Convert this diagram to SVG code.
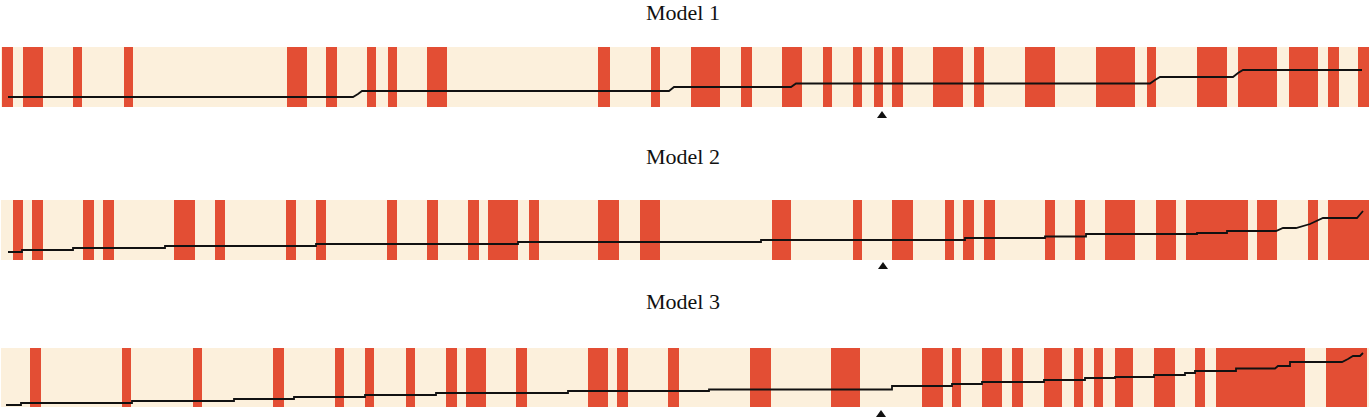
<svg xmlns="http://www.w3.org/2000/svg" width="1370" height="419" viewBox="0 0 1370 419">
<style>
.bg{fill:#fcf0dc}
.b rect{fill:#e34e34}
.t{font-family:"Liberation Serif",serif;font-size:22px;fill:#111;text-anchor:middle}
.ln{fill:none;stroke:#111;stroke-width:1.8}
.m{fill:#111}
</style>
<g id="model1">
<text class="t" x="683" y="20">Model 1</text>
<rect class="bg" x="1" y="47" width="1368" height="60"/>
<g class="b" transform="translate(0,47)">
<rect x="2" width="11" height="60"/><rect x="23" width="20" height="60"/><rect x="73" width="9" height="60"/><rect x="124" width="9" height="60"/><rect x="287" width="20" height="60"/><rect x="326" width="11" height="60"/><rect x="367" width="9" height="60"/><rect x="388" width="9" height="60"/><rect x="427" width="20" height="60"/><rect x="598" width="12" height="60"/><rect x="651" width="9" height="60"/><rect x="691" width="29" height="60"/><rect x="741" width="11" height="60"/><rect x="782" width="20" height="60"/><rect x="823" width="9" height="60"/><rect x="853" width="9" height="60"/><rect x="874" width="9" height="60"/><rect x="892" width="11" height="60"/><rect x="933" width="30" height="60"/><rect x="974" width="10" height="60"/><rect x="1025" width="30" height="60"/><rect x="1096" width="39" height="60"/><rect x="1147" width="9" height="60"/><rect x="1197" width="30" height="60"/><rect x="1238" width="39" height="60"/><rect x="1289" width="29" height="60"/><rect x="1328" width="11" height="60"/><rect x="1358" width="11" height="60"/>
</g>
<polyline class="ln" points="8,97 353,97 358,94 362,91 669,91 674,87 791,87 796,83.5 1150,83.5 1155,80 1160,77 1233,77 1238,73 1243,70 1362,70"/>
<polygon class="m" points="882,111 877,118 887,118"/>
</g>
<g id="model2">
<text class="t" x="683" y="164">Model 2</text>
<rect class="bg" x="1" y="200" width="1368" height="60"/>
<g class="b" transform="translate(0,200)">
<rect x="13" width="10" height="60"/><rect x="32" width="11" height="60"/><rect x="83" width="11" height="60"/><rect x="103" width="11" height="60"/><rect x="174" width="21" height="60"/><rect x="215" width="10" height="60"/><rect x="286" width="10" height="60"/><rect x="316" width="10" height="60"/><rect x="387" width="10" height="60"/><rect x="427" width="11" height="60"/><rect x="468" width="11" height="60"/><rect x="488" width="30" height="60"/><rect x="529" width="10" height="60"/><rect x="598" width="21" height="60"/><rect x="640" width="20" height="60"/><rect x="772" width="19" height="60"/><rect x="853" width="9" height="60"/><rect x="892" width="21" height="60"/><rect x="945" width="9" height="60"/><rect x="963" width="11" height="60"/><rect x="984" width="11" height="60"/><rect x="1045" width="10" height="60"/><rect x="1075" width="10" height="60"/><rect x="1105" width="30" height="60"/><rect x="1156" width="20" height="60"/><rect x="1186" width="62" height="60"/><rect x="1257" width="20" height="60"/><rect x="1308" width="10" height="60"/><rect x="1328" width="41" height="60"/>
</g>
<polyline class="ln" points="8,252 22,252 22,250 73,250 73,248 165,248 165,246 316,246 316,244 518,244 518,242 761,242 761,240 965,240 965,238 1045,238 1045,236.5 1086,236.5 1086,234 1197,234 1197,233 1227,233 1227,231 1276,231 1283,228 1296,228 1310,224 1323,218 1357,218 1363,211"/>
<polygon class="m" points="883,262 878,269 888,269"/>
</g>
<g id="model3">
<text class="t" x="683" y="309">Model 3</text>
<rect class="bg" x="1" y="348" width="1368" height="59"/>
<g class="b" transform="translate(0,348)">
<rect x="30" width="11" height="59"/><rect x="122" width="9" height="59"/><rect x="193" width="9" height="59"/><rect x="273" width="11" height="59"/><rect x="335" width="9" height="59"/><rect x="365" width="9" height="59"/><rect x="406" width="9" height="59"/><rect x="446" width="11" height="59"/><rect x="466" width="20" height="59"/><rect x="516" width="11" height="59"/><rect x="588" width="20" height="59"/><rect x="617" width="11" height="59"/><rect x="668" width="11" height="59"/><rect x="750" width="21" height="59"/><rect x="831" width="29" height="59"/><rect x="922" width="21" height="59"/><rect x="952" width="9" height="59"/><rect x="982" width="20" height="59"/><rect x="1012" width="11" height="59"/><rect x="1044" width="18" height="59"/><rect x="1074" width="9" height="59"/><rect x="1094" width="9" height="59"/><rect x="1115" width="18" height="59"/><rect x="1154" width="21" height="59"/><rect x="1195" width="10" height="59"/><rect x="1216" width="89" height="59"/><rect x="1326" width="41" height="59"/>
</g>
<polyline class="ln" points="6,405 21,405 21,403 132,403 132,401 234,401 234,399 294,399 294,397 365,397 365,395 436,395 436,393 568,393 568,391 709,391 709,389.5 892,389.5 892,386 952,386 952,384 982,384 982,382 1044,382 1044,380 1085,380 1085,378 1115,378 1115,377 1154,377 1154,375 1185,375 1185,373 1195,373 1195,371 1236,371 1236,368.5 1275,368.5 1278,366 1290,366 1290,362 1342,362 1348,359 1353,356 1360,356 1363,353"/>
<polygon class="m" points="881,410 876,417 886,417"/>
</g>
<g id="connectors"/>
</svg>
